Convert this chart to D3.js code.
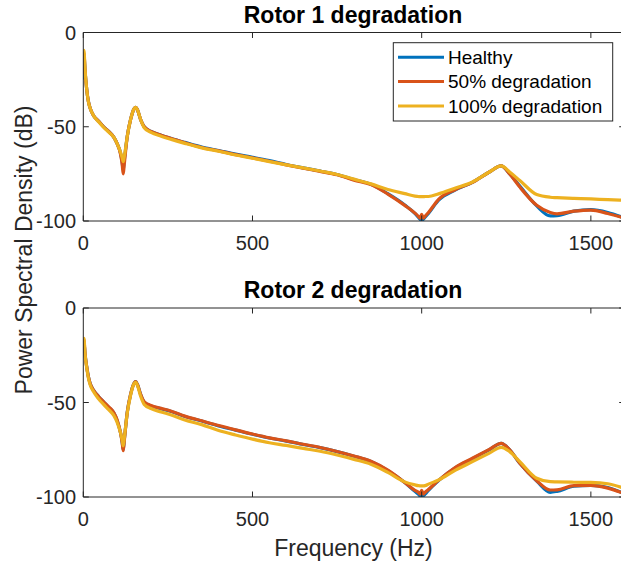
<!DOCTYPE html>
<html>
<head>
<meta charset="utf-8">
<script src="https://d3js.org/d3.v7.min.js"></script>
<style>
  body { margin: 0; background: #fff; }
  svg { font-family: "Liberation Sans", Arial, Helvetica, sans-serif; }
</style>
</head>
<body>
<svg id="psd" width="621" height="569"></svg>
<script>
// frequency grid (Hz) shared by all curves
const freq = [0, 2, 5, 10, 15, 20, 30, 45, 60, 75, 90, 100, 110, 115, 118, 121, 130, 140, 150, 155,
  160, 170, 180, 200, 230, 260, 300, 350, 400, 450, 500, 550, 600, 650, 700, 750, 800, 850, 900, 950,
  980, 990, 995, 1000, 1005, 1010, 1020, 1050, 1100, 1150, 1200, 1235, 1260, 1290, 1340, 1380, 1400, 1450, 1500, 1550, 1600];

// Rotor 1 (dB)
const r1_healthy = [-25, -12, -20, -30, -36.5, -40, -44, -47, -50, -52.5, -55.5, -59, -64, -69, -73, -68, -55, -46, -40.5, -39.7,
  -41, -46.5, -50, -52.5, -54.5, -56.2, -58.3, -60.8, -62.6, -64.5, -66.2, -68, -70, -71.8, -73.5, -75.3, -78, -80.5, -85.5, -91.5,
  -96, -98, -99, -99.7, -99, -98, -96, -89, -83.5, -79.5, -74, -70.8, -75, -81.5, -92, -97.3, -97.2, -94.8, -94, -95.5, -98.5];
const r1_deg50 = [-22, -11, -20, -30, -36.5, -40, -44, -47, -50, -52.5, -55.5, -59, -64.5, -70, -75, -70, -55, -46, -40.5, -39.7,
  -41, -46.5, -50, -52.5, -54.5, -56.2, -58.5, -61, -62.8, -64.8, -66.5, -68.3, -70.2, -72, -73.7, -75.5, -78.3, -80.7, -85.7, -91.7,
  -95.8, -97.5, -98.5, -96.5, -98.5, -97.5, -95.5, -88.5, -83.3, -79.5, -74, -70.8, -75, -82, -91.7, -95.5, -96.2, -94.8, -94.2, -96, -98.5];
const r1_deg100 = [-12, -9.5, -19, -30, -36.7, -40, -44, -47.3, -50.3, -52.8, -55.5, -59, -63.5, -66.5, -68.5, -66, -55, -46, -40.5, -39.7,
  -41, -46.5, -50.5, -53, -55, -56.7, -58.8, -61.2, -63, -65, -66.7, -68.5, -70.2, -71.8, -73.5, -75.3, -77.8, -80.3, -83.3, -85.5,
  -86.8, -87, -87.1, -87.1, -87.1, -87, -87, -85.6, -82.5, -79.3, -74, -70.8, -74, -78.5, -86, -87.4, -87.6, -88, -88.3, -88.7, -89];

// Rotor 2 (dB)
const r2_healthy = [-24, -18, -24, -31, -36.3, -39.8, -43.4, -46.8, -49.6, -52.5, -55.5, -59.5, -66, -71, -75, -70, -55, -45.5, -39.8, -39,
  -40.5, -46, -49.8, -51.8, -53.3, -54.8, -57.4, -59.8, -62.4, -64.6, -66.8, -68.8, -70.4, -72.2, -73.9, -76, -78.4, -81.2, -86, -92.3,
  -97, -98.5, -99.3, -99.8, -99.3, -98.5, -96.5, -91.3, -84.5, -79.7, -75, -71.6, -75, -82.2, -91.6, -97.5, -97, -94.3, -93.8, -95, -98.3];
const r2_deg50 = [-22, -17, -24, -31, -36.3, -39.8, -43.4, -46.8, -49.6, -52.3, -55.3, -59.3, -66, -71.5, -75.5, -70.5, -55, -45.5, -39.8, -39,
  -40.5, -46, -49.6, -51.6, -53.1, -54.6, -57.2, -59.7, -62.2, -64.5, -66.7, -68.7, -70.3, -72.1, -73.8, -75.9, -78.3, -81.1, -85.8, -92.3,
  -96.5, -97.5, -98.5, -96.5, -98.5, -97.5, -96, -91.2, -84.3, -79.5, -74.8, -71.6, -75, -82.2, -91.4, -96.3, -96.2, -94, -93.9, -95.3, -98.3];
const r2_deg100 = [-17, -16, -24, -31.5, -37, -40.5, -44.2, -48, -51, -53.8, -56.8, -60.5, -66, -70, -73, -69, -55.5, -46, -40, -39.3,
  -41, -47, -51, -53.2, -55, -56.6, -59.3, -61.7, -64.8, -67.2, -69.4, -71.3, -72.7, -74.3, -75.8, -77.8, -80.1, -82.7, -87, -92,
  -93.6, -94, -94.1, -94.1, -94.1, -94, -93.2, -91, -85.8, -81.3, -76.8, -73.7, -76, -81.3, -90.1, -91.9, -92, -92.2, -92.3, -93, -95.5];

const seriesNames = ["Healthy", "50% degradation", "100% degradation"];
const colors = ["#0072BD", "#D95319", "#EDB120"];
const xTicks = [0, 500, 1000, 1500];
const yTicks = [0, -50, -100];

const axisColor = "#262626";
const svg = d3.select("#psd");

const x = d3.scaleLinear().domain([0, 1600]).range([83.3, 624.7]);

function drawPanel(top, bottom, title, series, showLegend) {
  const y = d3.scaleLinear().domain([-100, 0]).range([bottom, top]);
  const g = svg.append("g");

  const clipId = "clip" + Math.round(top);
  g.append("clipPath").attr("id", clipId)
    .append("rect").attr("x", x.range()[0]).attr("y", top)
    .attr("width", x.range()[1] - x.range()[0]).attr("height", bottom - top);

  const line = d3.line()
    .x((d, i) => x(freq[i]))
    .y(d => y(d))
    .curve(d3.curveMonotoneX);

  g.append("g").attr("clip-path", `url(#${clipId})`)
    .selectAll("path")
    .data(series)
    .join("path")
    .attr("d", d => line(d))
    .attr("fill", "none")
    .attr("stroke", (d, i) => colors[i])
    .attr("stroke-width", 3.2)
    .attr("stroke-linejoin", "round");

  // box
  const [x0, x1] = x.range();
  g.append("path")
    .attr("d", `M${x0},${top}H${x1}M${x0},${top}V${bottom}H${x1}M${x1},${top}V${bottom}`)
    .attr("fill", "none").attr("stroke", axisColor).attr("stroke-width", 1);

  // ticks (inward, on all four sides)
  const tl = 5.5;
  xTicks.forEach(t => {
    g.append("line").attr("x1", x(t)).attr("x2", x(t)).attr("y1", bottom).attr("y2", bottom - tl)
      .attr("stroke", axisColor);
    g.append("line").attr("x1", x(t)).attr("x2", x(t)).attr("y1", top).attr("y2", top + tl)
      .attr("stroke", axisColor);
    g.append("text").attr("x", x(t)).attr("y", bottom + 29)
      .attr("text-anchor", "middle").attr("font-size", 20).attr("fill", axisColor)
      .text(t);
  });
  yTicks.forEach(t => {
    g.append("line").attr("x1", x0).attr("x2", x0 + tl).attr("y1", y(t)).attr("y2", y(t))
      .attr("stroke", axisColor);
    g.append("line").attr("x1", x1).attr("x2", x1 - tl).attr("y1", y(t)).attr("y2", y(t))
      .attr("stroke", axisColor);
    g.append("text").attr("x", 76).attr("y", y(t) + 7)
      .attr("text-anchor", "end").attr("font-size", 20).attr("fill", axisColor)
      .text(t);
  });

  g.append("text").attr("x", 353).attr("y", top - 10)
    .attr("text-anchor", "middle").attr("font-size", 23).attr("font-weight", "bold")
    .attr("fill", "#000").text(title);

  if (showLegend) {
    const lg = g.append("g");
    lg.append("rect").attr("x", 393.3).attr("y", 42.7).attr("width", 219.4).attr("height", 78.3)
      .attr("fill", "#fff").attr("stroke", axisColor).attr("stroke-width", 1);
    const rowY = [57.3, 81.5, 106];
    seriesNames.forEach((name, i) => {
      lg.append("line").attr("x1", 398).attr("x2", 444).attr("y1", rowY[i]).attr("y2", rowY[i])
        .attr("stroke", colors[i]).attr("stroke-width", 3);
      lg.append("text").attr("x", 448).attr("y", rowY[i] + 6.5)
        .attr("font-size", 19).attr("fill", "#000").text(name);
    });
  }
}

drawPanel(32.5, 221, "Rotor 1 degradation", [r1_healthy, r1_deg50, r1_deg100], true);
drawPanel(308, 497, "Rotor 2 degradation", [r2_healthy, r2_deg50, r2_deg100], false);

svg.append("text").attr("x", 353.5).attr("y", 556)
  .attr("text-anchor", "middle").attr("font-size", 23).attr("fill", axisColor)
  .text("Frequency (Hz)");

svg.append("text").attr("transform", "translate(32,250) rotate(-90)")
  .attr("text-anchor", "middle").attr("font-size", 23).attr("fill", axisColor)
  .text("Power Spectral Density (dB)");
</script>
</body>
</html>
